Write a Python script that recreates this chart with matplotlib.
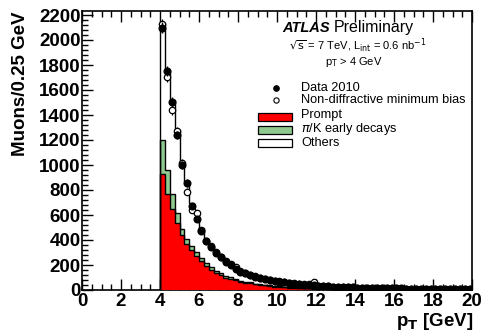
import numpy as np
import matplotlib
matplotlib.use("Agg")
import matplotlib.pyplot as plt
from matplotlib.patches import Rectangle
from matplotlib.ticker import MultipleLocator

# ---------------- data (bins of 0.25 GeV from 4 to 20 GeV) ----------------
bin_edges = np.arange(4.0, 20.0001, 0.25)

data_2010 = [2100, 1750, 1505, 1240, 1000, 855, 670, 570, 470, 390, 345, 300, 262, 225, 198, 172,
             148, 133, 118, 105, 94, 86, 80, 74, 68, 62, 57, 52, 48, 44, 40, 37,
             34, 32, 30, 28, 26, 24, 22, 21, 20, 19, 18, 17, 16, 15, 14, 13.5,
             13, 12.5, 12, 11.5, 11, 10.5, 10, 9.5, 9, 8.5, 8, 8, 7.5, 7, 7, 6.5]

mc_minbias = [2125, 1705, 1440, 1270, 1015, 785, 640, 615, 480, 395, 350, 305, 268, 232, 205, 182,
              152, 138, 124, 112, 100, 92, 84, 76, 70, 64, 60, 56, 50, 46, 45, 62,
              35, 31, 30, 27, 26, 24, 22, 21, 20, 19, 18, 17, 16, 15, 14, 13,
              13, 12, 12, 11, 11, 10, 10, 9, 9, 8, 8, 8, 7, 7, 7, 6]

stack_total = [2135, 1760, 1520, 1280, 1024, 864, 696, 616, 496, 400, 344, 300, 265, 228, 200, 180,
               150, 135, 122, 110, 96, 90, 82, 75, 70, 62, 60, 55, 50, 45, 42, 48,
               34, 31, 30, 27, 26, 24, 22, 21, 20, 19, 18, 17, 16, 15, 14, 13,
               13, 12, 12, 11, 11, 10, 10, 9, 9, 8, 8, 8, 7, 7, 7, 6]

prompt = [925, 770, 650, 540, 440, 370, 320, 270, 230, 195, 160, 135, 120, 100, 90, 82,
          65, 60, 55, 45, 42, 38, 35, 28, 25, 22, 20, 18, 16, 14, 13, 12,
          11, 10, 10, 9, 9, 8, 8, 7, 7, 7, 6, 6, 6, 5, 5, 5,
          5, 4, 4, 4, 4, 4, 3, 3, 3, 3, 3, 3, 2, 2, 2, 2]

pik_decays = [275, 190, 120, 80, 50, 40, 35, 35, 30, 25, 22, 20, 15, 15, 12, 10,
              8, 8, 7, 6, 5, 5, 5, 4, 4, 4, 3, 3, 3, 3, 3, 3,
              2, 2, 2, 2, 2, 2, 2, 2, 2, 2, 2, 2, 1, 1, 1, 1,
              1, 1, 1, 1, 1, 1, 1, 1, 1, 1, 1, 1, 1, 1, 1, 1]

x_ticks = [0, 2, 4, 6, 8, 10, 12, 14, 16, 18, 20]
y_ticks = [0, 200, 400, 600, 800, 1000, 1200, 1400, 1600, 1800, 2000, 2200]

# ---------------- figure ----------------
W, H = 485, 333
fig = plt.figure(figsize=(W / 100, H / 100), dpi=100)
plt.rcParams['font.family'] = ['Liberation Sans', 'DejaVu Sans']

def fx(px):
    return px / W

def fy(py):
    return 1 - py / H

ax = fig.add_axes([fx(82), fy(290), fx(472) - fx(82), fy(11) - fy(290)])

prompt_a = np.array(prompt, float)
pik_a = np.array(pik_decays, float)
tot_a = np.array(stack_total, float)
others = np.maximum(tot_a - prompt_a - pik_a, 0)

lvl3 = prompt_a + pik_a + others
lvl2 = prompt_a + pik_a
ax.stairs(lvl3, bin_edges, fill=True, facecolor='white', edgecolor='none', baseline=0, zorder=1)
ax.stairs(lvl2, bin_edges, fill=True, facecolor='#8fc98f', edgecolor='none', baseline=0, zorder=2)
ax.stairs(prompt_a, bin_edges, fill=True, facecolor='#ff0000', edgecolor='none', baseline=0, zorder=3)
ax.stairs(lvl3, bin_edges, fill=False, edgecolor='black', linewidth=1.0, baseline=0, zorder=4)
ax.stairs(lvl2, bin_edges, fill=False, edgecolor='black', linewidth=1.0, baseline=0, zorder=4)
ax.stairs(prompt_a, bin_edges, fill=False, edgecolor='black', linewidth=1.0, baseline=0, zorder=4)

centers = 0.5 * (bin_edges[:-1] + bin_edges[1:])
data_a = np.array(data_2010, float)
ax.errorbar(centers, mc_minbias, yerr=np.sqrt(np.array(mc_minbias, float)), fmt='o',
            ms=4.6, mfc='white', mec='black', mew=0.9, ecolor='black', elinewidth=0.9,
            capsize=0, zorder=5)
ax.errorbar(centers, data_a, yerr=np.sqrt(data_a), fmt='o', ms=4.8, mfc='black',
            mec='black', ecolor='black', elinewidth=1.0, capsize=0, zorder=6)

ax.set_xlim(0, 20)
ax.set_ylim(0, 2232)
ax.set_xticks(x_ticks)
ax.set_yticks(y_ticks)
ax.xaxis.set_minor_locator(MultipleLocator(0.5))
ax.yaxis.set_minor_locator(MultipleLocator(40))
ax.tick_params(which='both', direction='in', top=True, right=False, width=1.0)
ax.tick_params(which='major', length=8)
ax.tick_params(which='minor', length=4)
ax.tick_params(axis='x', pad=2)
ax.tick_params(axis='y', pad=1)
for lab in ax.get_xticklabels() + ax.get_yticklabels():
    lab.set_fontweight('bold')
    lab.set_fontsize(13.5)
for sp in ax.spines.values():
    sp.set_linewidth(1.2)

fig.text(fx(12), fy(11), 'Muons/0.25 GeV', rotation=90, ha='left', va='top',
         fontsize=13.5, fontweight='bold')
fig.text(fx(473), fy(332), r'p$_\mathbf{T}$ [GeV]', ha='right', va='bottom',
         fontsize=13.5, fontweight='bold')

# ATLAS label block
fig.text(fx(330), fy(27.5), 'ATLAS', fontsize=10.5, fontweight='bold', style='italic',
         ha='right', va='center')
fig.text(fx(334), fy(27.5), 'Preliminary', fontsize=11.5, ha='left', va='center')
fig.text(fx(358), fy(46), r'$\sqrt{\mathrm{s}}$ = 7 TeV, L$_{\mathrm{int}}$ = 0.6 nb$^{-1}$',
         fontsize=8, ha='center', va='center')
fig.text(fx(354), fy(62), r'p$_{\mathrm{T}}$ > 4 GeV', fontsize=8, ha='center', va='center')

# legend
tx = fx(301)
fs = 9.2
fig.text(tx, fy(88), 'Data 2010', fontsize=fs, ha='left', va='center')
fig.text(tx, fy(100), 'Non-diffractive minimum bias', fontsize=fs, ha='left', va='center')
fig.text(tx, fy(115), 'Prompt', fontsize=fs, ha='left', va='center')
fig.text(tx, fy(129), r'$\pi$/K early decays', fontsize=fs, ha='left', va='center')
fig.text(tx, fy(143), 'Others', fontsize=fs, ha='left', va='center')
fig.lines.append(plt.Line2D([fx(276)], [fy(88)], marker='o', ms=3.8, mfc='black', mec='black',
                            transform=fig.transFigure, figure=fig))
fig.lines.append(plt.Line2D([fx(276)], [fy(99.5)], marker='o', ms=3.8, mfc='white', mec='black',
                            mew=0.8, transform=fig.transFigure, figure=fig))
for yc, col in [(117, '#ff0000'), (129.5, '#8fc98f'), (143, 'white')]:
    fig.patches.append(Rectangle((fx(258), fy(yc + 4)), fx(292) - fx(258), fy(yc - 4) - fy(yc + 4),
                                 facecolor=col, edgecolor='black', linewidth=0.9,
                                 transform=fig.transFigure, figure=fig))

fig.savefig('out.png', dpi=100)
